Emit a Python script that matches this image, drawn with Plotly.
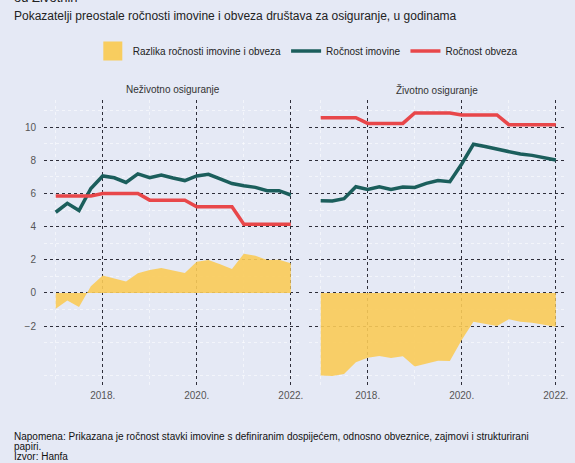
import pandas as pd
import plotly.graph_objects as go
from plotly.subplots import make_subplots

# ---- data (quarterly, 2017Q1 .. 2022Q1) ----
quarters = list(pd.date_range("2017-01-01", "2022-01-01", freq="QS").strftime("%Y-%m-%d"))

panel_titles = ["Neživotno osiguranje", "Životno osiguranje"]
series_names = ["Razlika ročnosti imovine i obveza", "Ročnost imovine", "Ročnost obveza"]

# Neživotno osiguranje
nonlife_assets = [4.87, 5.41, 4.97, 6.3, 7.06, 6.95, 6.67, 7.18, 6.96, 7.12, 6.94,
                  6.78, 7.06, 7.16, 6.88, 6.6, 6.47, 6.37, 6.17, 6.17, 5.91]
nonlife_liab = [5.85, 5.85, 5.85, 5.85, 6.0, 6.0, 6.0, 6.0, 5.6, 5.6, 5.6,
                5.6, 5.2, 5.2, 5.2, 5.2, 4.14, 4.14, 4.14, 4.14, 4.14]
nonlife_gap = [-0.95, -0.46, -0.84, 0.4, 1.05, 0.88, 0.7, 1.19, 1.39, 1.51, 1.35,
               1.21, 1.89, 1.99, 1.73, 1.45, 2.37, 2.25, 1.99, 2.0, 1.79]

# Životno osiguranje
life_assets = [5.57, 5.55, 5.69, 6.41, 6.25, 6.41, 6.25, 6.39, 6.37, 6.61, 6.78,
               6.71, 7.78, 8.97, 8.83, 8.69, 8.52, 8.38, 8.3, 8.18, 8.02]
life_liab = [10.57, 10.57, 10.57, 10.57, 10.23, 10.23, 10.23, 10.23, 10.86, 10.86, 10.86,
             10.86, 10.74, 10.74, 10.74, 10.74, 10.15, 10.15, 10.15, 10.15, 10.15]
life_gap = [-4.97, -5.0, -4.89, -4.18, -3.9, -3.8, -3.92, -3.82, -4.44, -4.24, -4.08,
            -4.1, -2.83, -1.73, -1.87, -1.99, -1.59, -1.73, -1.79, -1.89, -2.03]

y_tickvals = [-2, 0, 2, 4, 6, 8, 10]
y_minorvals = [-5, -3, -1, 1, 3, 5, 7, 9, 11]
x_tickvals = ["2018-01-01", "2020-01-01", "2022-01-01"]
x_ticktext = ["2018.", "2020.", "2022."]
x_minorvals = ["2017-01-01", "2019-01-01", "2021-01-01"]

C_GAP = "rgba(250,203,88,0.9)"
C_GAP_SOLID = "#F8CD5F"
C_ASSET = "#1B5E5C"
C_LIAB = "#E8474A"
BG = "#E5E9F5"

fig = make_subplots(rows=1, cols=2, shared_yaxes=True, horizontal_spacing=0.0153)

panels = [(nonlife_gap, nonlife_assets, nonlife_liab), (life_gap, life_assets, life_liab)]
for i, (gap, assets, liab) in enumerate(panels, start=1):
    fig.add_trace(go.Scatter(x=quarters, y=gap, mode="lines", fill="tozeroy",
                             fillcolor=C_GAP, line=dict(width=0, color=C_GAP),
                             name=series_names[0], showlegend=False, hoverinfo="x+y"),
                  row=1, col=i)
    fig.add_trace(go.Scatter(x=quarters, y=assets, mode="lines",
                             line=dict(color=C_ASSET, width=3.5),
                             name=series_names[1], showlegend=(i == 1)),
                  row=1, col=i)
    fig.add_trace(go.Scatter(x=quarters, y=liab, mode="lines",
                             line=dict(color=C_LIAB, width=3.5),
                             name=series_names[2], showlegend=(i == 1)),
                  row=1, col=i)

# legend entry for the area
fig.add_trace(go.Scatter(x=[None], y=[None], mode="markers",
                         marker=dict(symbol="square", size=16, color=C_GAP_SOLID,
                                     line=dict(color=C_GAP_SOLID, width=3)),
                         name=series_names[0], showlegend=True), row=1, col=1)
# order legend: area first
fig.data = (fig.data[-1],) + fig.data[:-1]

grid_major = dict(showgrid=True, gridcolor="#2E2E3A", gridwidth=1.3, griddash="dot")
for c in (1, 2):
    fig.update_xaxes(row=1, col=c, type="date",
                     range=["2016-10-02", "2022-03-21"],
                     tickvals=x_tickvals, ticktext=x_ticktext,
                     tickfont=dict(size=10, color="#555555"),
                     zeroline=False, showline=False, ticks="",
                     minor=dict(tickvals=x_minorvals, showgrid=True,
                                gridcolor="rgba(255,255,255,0.55)", gridwidth=1),
                     **grid_major)
    fig.update_yaxes(row=1, col=c, range=[-5.73, 11.64],
                     tickvals=y_tickvals, ticks="outside", ticklen=5, tickcolor="rgba(0,0,0,0)",
                     tickfont=dict(size=10, color="#555555"),
                     zeroline=False, showline=False,
                     minor=dict(tickvals=y_minorvals, showgrid=True, ticks="",
                                gridcolor="rgba(255,255,255,0.55)", gridwidth=1),
                     **grid_major)

W, H = 575, 463
ML, MR, MT, MB = 44, 7, 100, 75
pw, ph = W - ML - MR, H - MT - MB


def px(xp):
    return (xp - ML) / pw


def py(yp):
    return (H - MB - yp) / ph


annotations = [
    dict(text="od Životnih", x=px(12), y=py(-2), xanchor="left", yanchor="middle",
         font=dict(size=13, color="#222222")),
    dict(text="Pokazatelji preostale ročnosti imovine i obveza društava za osiguranje, u godinama",
         x=px(12), y=py(16), xanchor="left", yanchor="middle",
         font=dict(size=12, color="#222222")),
    dict(text=panel_titles[0], x=px(173), y=py(90), xanchor="center", yanchor="middle",
         font=dict(size=10, color="#333333")),
    dict(text=panel_titles[1], x=px(439), y=py(90), xanchor="center", yanchor="middle",
         font=dict(size=10, color="#333333")),
    dict(text="Napomena: Prikazana je ročnost stavki imovine s definiranim dospijećem, odnosno obveznice, zajmovi i strukturirani",
         x=px(12), y=py(436), xanchor="left", yanchor="middle",
         font=dict(size=10, color="#111111")),
    dict(text="papiri.", x=px(12), y=py(446.5), xanchor="left", yanchor="middle",
         font=dict(size=10, color="#111111")),
    dict(text="Izvor: Hanfa", x=px(12), y=py(456), xanchor="left", yanchor="middle",
         font=dict(size=10, color="#111111")),
]
for a in annotations:
    a.update(xref="paper", yref="paper", showarrow=False)

fig.update_layout(
    width=W, height=H,
    margin=dict(l=ML, r=MR, t=MT, b=MB),
    paper_bgcolor=BG, plot_bgcolor=BG,
    font=dict(family="Liberation Sans, Arial, sans-serif", size=10, color="#222222"),
    showlegend=True,
    legend=dict(orientation="h", x=px(93), y=py(51), xanchor="left", yanchor="middle",
                bgcolor="rgba(0,0,0,0)", font=dict(size=10, color="#222222"),
                traceorder="normal"),
    annotations=annotations,
    hovermode="closest",
)

fig.write_html("out.html",
               config={"displayModeBar": False},
               post_script="document.body.style.margin='0';document.body.style.background='" + BG + "';")
